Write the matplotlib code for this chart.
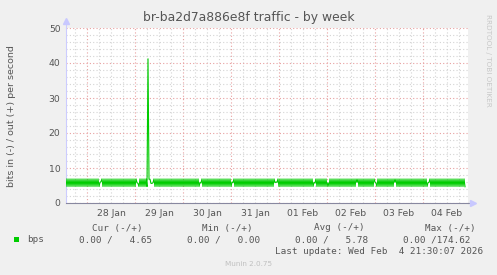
from datetime import datetime, timedelta
import matplotlib
matplotlib.use('Agg')
import matplotlib.pyplot as plt
import matplotlib.dates as mdates
from matplotlib.ticker import MultipleLocator, NullFormatter, FuncFormatter

# munin week graph: one sample every 30 min
start = datetime(2026, 1, 27, 13, 30)
step_min = 30
x_end = datetime(2026, 2, 4, 22, 30)

# bps out (+), 20 samples per row
bps_out = [
    6.9, 4.7, 6.9, 4.7, 6.9, 4.7, 6.9, 4.7, 6.9, 4.7, 6.9, 4.7, 6.9, 4.7, 6.9, 4.7, 6.9, 4.7, 6.9, 4.7,
    6.9, 4.7, 6.9, 4.7, 6.9, 4.7, 6.9, 4.7, 6.9, 4.7, 6.9, 4.7, 6.9, 4.7, 5.9, 6.1, 6.9, 4.7, 6.9, 4.7,
    6.9, 4.7, 6.9, 4.7, 6.9, 4.7, 6.9, 4.7, 6.9, 4.7, 6.9, 4.7, 6.9, 4.7, 6.9, 4.7, 6.9, 4.7, 6.9, 4.7,
    6.9, 4.7, 6.9, 4.7, 6.9, 4.7, 6.9, 4.7, 6.9, 4.7, 6.9, 5.8, 5.6, 4.7, 6.9, 4.7, 6.9, 4.7, 6.9, 4.7,
    6.9, 4.7, 41.2, 6.8, 6.8, 5.6, 5.6, 5.8, 6.9, 4.7, 6.9, 4.7, 6.9, 4.7, 6.9, 4.7, 6.9, 4.7, 6.9, 4.7,
    6.9, 4.7, 6.9, 4.7, 6.9, 4.7, 6.9, 4.7, 6.9, 4.7, 6.9, 4.7, 6.9, 4.7, 6.9, 4.7, 6.9, 4.7, 6.9, 4.7,
    6.9, 4.7, 6.9, 4.7, 6.9, 4.7, 6.9, 4.7, 6.9, 4.7, 6.9, 4.7, 6.9, 4.7, 5.9, 5.7, 6.9, 4.7, 6.9, 4.7,
    6.9, 4.7, 6.9, 4.7, 6.9, 4.7, 6.9, 4.7, 6.9, 4.7, 6.9, 4.7, 6.9, 4.7, 6.9, 4.7, 6.9, 4.7, 6.9, 4.7,
    6.9, 4.7, 6.9, 4.7, 6.9, 4.7, 6.0, 5.8, 6.9, 4.7, 6.9, 4.7, 6.9, 4.7, 6.9, 4.7, 6.9, 4.7, 6.9, 4.7,
    6.9, 4.7, 6.9, 4.7, 6.9, 4.7, 6.9, 4.7, 6.9, 4.7, 6.9, 4.7, 6.9, 4.7, 6.9, 4.7, 6.9, 4.7, 6.9, 4.7,
    6.9, 4.7, 6.9, 4.7, 6.9, 4.7, 6.9, 4.7, 6.9, 5.8, 6.0, 5.9, 6.9, 4.7, 6.9, 4.7, 6.9, 4.7, 6.9, 4.7,
    6.9, 4.7, 6.9, 4.7, 6.9, 4.7, 6.9, 4.7, 6.9, 4.7, 6.9, 4.7, 6.9, 4.7, 6.9, 4.7, 6.9, 4.7, 6.9, 4.7,
    6.9, 4.7, 6.9, 4.7, 6.9, 4.7, 6.9, 4.7, 5.9, 5.7, 6.9, 4.7, 6.9, 4.7, 6.9, 4.7, 6.9, 4.7, 6.9, 4.7,
    6.9, 4.7, 5.8, 4.7, 6.9, 4.7, 6.9, 4.7, 6.9, 4.7, 6.9, 4.7, 6.9, 4.7, 6.9, 4.7, 6.9, 4.7, 6.9, 4.7,
    6.9, 4.7, 6.9, 4.7, 6.9, 4.7, 6.9, 4.7, 6.9, 4.7, 6.9, 5.9, 6.9, 4.7, 6.9, 4.7, 6.9, 4.7, 6.9, 4.7,
    6.9, 4.7, 6.9, 4.7, 6.9, 4.7, 6.9, 4.7, 6.9, 6.0, 5.7, 4.7, 6.9, 4.7, 6.9, 4.7, 6.9, 4.7, 6.9, 4.7,
    6.9, 4.7, 6.9, 4.7, 6.9, 4.7, 6.9, 4.7, 6.9, 5.9, 6.9, 4.7, 6.9, 4.7, 6.9, 4.7, 6.9, 4.7, 6.9, 4.7,
    6.9, 4.7, 6.9, 4.7, 6.9, 4.7, 6.9, 4.7, 6.9, 4.7, 6.9, 4.7, 6.9, 4.7, 6.9, 4.7, 6.9, 4.7, 6.9, 4.7,
    6.9, 4.7, 5.8, 5.9, 6.9, 4.7, 6.9, 4.7, 6.9, 4.7, 6.9, 4.7, 6.9, 4.7, 6.9, 4.7, 6.9, 4.7, 6.9, 4.7,
    6.9, 4.7, 6.9, 4.7, 6.9, 4.7, 6.9, 4.7, 6.9, 4.7, 6.9, 4.7, 6.9, 4.7, 6.9, 4.7, 6.9, 4.7, 6.9, 4.65,
]
times = [start + timedelta(minutes=step_min * i) for i in range(len(bps_out))]

title = 'br-ba2d7a886e8f traffic - by week'
ylabel = 'bits in (-) / out (+) per second'
col_heads = ['Cur (-/+)', 'Min (-/+)', 'Avg (-/+)', 'Max (-/+)']
col_vals = ['0.00 /   4.65', '0.00 /   0.00', '0.00 /   5.78', '0.00 /174.62']
last_update = 'Last update: Wed Feb  4 21:30:07 2026'

W, H = 497, 275
bg = '#f0f0f0'
txt = '#555555'
fig = plt.figure(figsize=(W / 100, H / 100), dpi=100, facecolor=bg)
ax = fig.add_axes([66 / W, 1 - 203 / H, 402 / W, 175 / H])
ax.set_facecolor('white')

ax.plot(times, bps_out, color='#00cc00', lw=0.8, zorder=3)

ax.set_xlim(start, x_end)
ax.set_ylim(0, 50)

# grid like rrdtool: grey minor, pink major
ax.xaxis.set_major_locator(mdates.DayLocator())
ax.xaxis.set_major_formatter(NullFormatter())
ax.xaxis.set_minor_locator(mdates.HourLocator(byhour=[6, 12, 18]))
ax.xaxis.set_minor_formatter(FuncFormatter(
    lambda v, p: mdates.num2date(v).strftime('%d %b') if mdates.num2date(v).hour == 12 else ''))
ax.yaxis.set_major_locator(MultipleLocator(10))
ax.yaxis.set_minor_locator(MultipleLocator(2))
ax.grid(which='minor', color='#d4d4d4', linestyle=(0, (1, 2)), lw=0.8)
ax.grid(which='major', color='#e8a0a0', linestyle=(0, (1, 2)), lw=0.8)
ax.set_axisbelow(True)
ax.tick_params(which='both', length=0, colors=txt, labelsize=6.7, pad=4)

for s in ('top', 'right'):
    ax.spines[s].set_visible(False)
ax.spines['left'].set_color('#ccccff')
ax.spines['left'].set_linewidth(0.8)
ax.spines['bottom'].set_color('#8888a0')
ax.spines['bottom'].set_linewidth(0.8)
ax.plot([0, 0], [1, 1.03], transform=ax.transAxes, color='#ccccff', lw=0.8, clip_on=False)
ax.plot([0], [1.04], marker='^', ms=4, color='#c8c8ff', transform=ax.transAxes, clip_on=False)
ax.plot([1, 1.008], [0, 0], transform=ax.transAxes, color='#8888a0', lw=0.8, clip_on=False)
ax.plot([1.012], [0], marker='>', ms=4, color='#c8c8ff', transform=ax.transAxes, clip_on=False)

fig.text(249 / W, 1 - 18 / H, title, ha='center', va='center', fontsize=8.9, color=txt)
fig.text(12 / W, 1 - 116 / H, ylabel, ha='center', va='center', rotation=90, fontsize=6.8, color=txt)
fig.text(488 / W, 1 - 60 / H, 'RRDTOOL / TOBI OETIKER', ha='center', va='center',
         rotation=270, fontsize=5.2, color='#c8c8c8')

mono = 'DejaVu Sans Mono'
head_x = [143, 253, 365, 476]
for hx, h in zip(head_x, col_heads):
    fig.text(hx / W, 1 - 228 / H, h, ha='right', va='center', fontsize=6.7, family=mono, color=txt)
val_x = [79, 187, 295, 403]
for vx, v in zip(val_x, col_vals):
    fig.text(vx / W, 1 - 240 / H, v, ha='left', va='center', fontsize=6.7, family=mono, color=txt)
fig.patches.append(plt.Rectangle((14 / W, 1 - 242 / H), 5 / W, 5 / H, transform=fig.transFigure,
                                 facecolor='#00cc00', edgecolor='none'))
fig.text(27 / W, 1 - 240 / H, 'bps', ha='left', va='center', fontsize=6.7, family=mono, color=txt)
fig.text(483 / W, 1 - 252 / H, last_update, ha='right', va='center', fontsize=6.7, family=mono, color=txt)
fig.text(249 / W, 1 - 264 / H, 'Munin 2.0.75', ha='center', va='center', fontsize=5.2, color='#c0c0c0')

fig.savefig('out.png', dpi=100, facecolor=bg)
